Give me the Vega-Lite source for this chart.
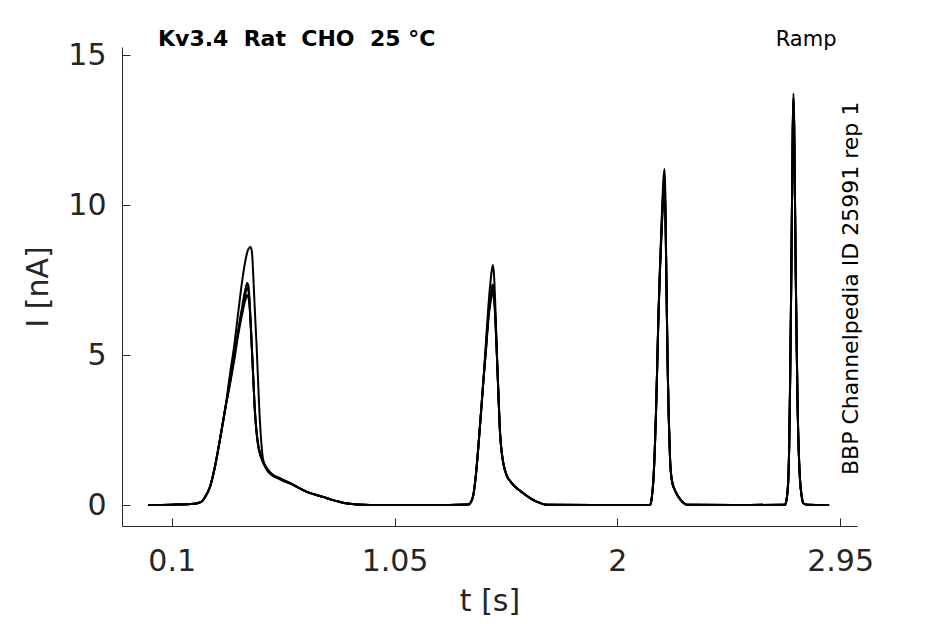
{
  "$schema": "https://vega.github.io/schema/vega-lite/v6.json",
  "width": 735,
  "height": 479,
  "autosize": {"type": "none"},
  "padding": {"left": 122, "top": 47, "right": 88, "bottom": 98},
  "background": "white",
  "title": {
    "text": "Kv3.4\u00a0 Rat\u00a0 CHO\u00a0 25 °C",
    "anchor": "start",
    "frame": "group",
    "dx": 36,
    "dy": 39,
    "offset": 0,
    "baseline": "alphabetic",
    "font": "DejaVu Sans",
    "fontSize": 22,
    "fontWeight": "bold",
    "color": "black"
  },
  "config": {
    "view": {"stroke": null},
    "axis": {
      "grid": false,
      "domainColor": "#262626",
      "tickColor": "#262626",
      "labelColor": "#262626",
      "titleColor": "#262626",
      "labelFont": "DejaVu Sans",
      "titleFont": "DejaVu Sans",
      "labelFontSize": 30,
      "titleFontSize": 30,
      "titleFontWeight": "normal",
      "tickSize": -8,
      "labelFlush": false,
      "labelOverlap": false
    }
  },
  "layer": [
    {
      "data": {
        "values": [
          {"r":"A","t":0,"i":0},{"r":"A","t":0.1,"i":0.01},{"r":"A","t":0.18,"i":0.03},{"r":"A","t":0.21,"i":0.06},{"r":"A","t":0.228,"i":0.12},{"r":"A","t":0.245,"i":0.3},{"r":"A","t":0.263,"i":0.6},{"r":"A","t":0.285,"i":1.3},{"r":"A","t":0.306,"i":2.2},{"r":"A","t":0.328,"i":3.2},
          {"r":"A","t":0.349,"i":4.4},{"r":"A","t":0.367,"i":5.35},{"r":"A","t":0.384,"i":6.45},{"r":"A","t":0.4,"i":7.45},{"r":"A","t":0.413,"i":8.1},{"r":"A","t":0.425,"i":8.5},{"r":"A","t":0.437,"i":8.6},{"r":"A","t":0.443,"i":8.35},{"r":"A","t":0.448,"i":7.6},{"r":"A","t":0.455,"i":6.4},{"r":"A","t":0.462,"i":5.3},{"r":"A","t":0.474,"i":3.1},{"r":"A","t":0.488,"i":1.6},{"r":"A","t":0.5,"i":1.25},{"r":"A","t":0.512,"i":1.1},{"r":"A","t":0.53,"i":0.98},{"r":"A","t":0.55,"i":0.9},{"r":"A","t":0.576,"i":0.8},{"r":"A","t":0.604,"i":0.72},
          {"r":"A","t":0.64,"i":0.58},{"r":"A","t":0.676,"i":0.44},{"r":"A","t":0.71,"i":0.35},{"r":"A","t":0.746,"i":0.27},{"r":"A","t":0.78,"i":0.18},{"r":"A","t":0.818,"i":0.1},{"r":"A","t":0.85,"i":0.05},{"r":"A","t":0.889,"i":0.02},{"r":"A","t":1.0,"i":0},{"r":"A","t":1.2,"i":0},{"r":"A","t":1.365,"i":0.02},{"r":"A","t":1.376,"i":0.1},{"r":"A","t":1.386,"i":0.33},{"r":"A","t":1.397,"i":1.0},{"r":"A","t":1.407,"i":1.9},{"r":"A","t":1.418,"i":3.0},{"r":"A","t":1.429,"i":4.15},
          {"r":"A","t":1.44,"i":5.45},{"r":"A","t":1.45,"i":6.6},{"r":"A","t":1.46,"i":7.5},{"r":"A","t":1.469,"i":8.0},{"r":"A","t":1.474,"i":7.7},{"r":"A","t":1.48,"i":6.6},{"r":"A","t":1.486,"i":5.2},
          {"r":"A","t":1.493,"i":3.7},{"r":"A","t":1.5,"i":2.4},{"r":"A","t":1.508,"i":1.7},{"r":"A","t":1.515,"i":1.35},{"r":"A","t":1.529,"i":0.97},{"r":"A","t":1.545,"i":0.78},{"r":"A","t":1.565,"i":0.6},{"r":"A","t":1.585,"i":0.48},{"r":"A","t":1.62,"i":0.27},{"r":"A","t":1.656,"i":0.11},{"r":"A","t":1.699,"i":0.01},{"r":"A","t":1.9,"i":0},{"r":"A","t":2.1,"i":0},{"r":"A","t":2.14,"i":0},{"r":"A","t":2.147,"i":0.25},{"r":"A","t":2.154,"i":0.85},{"r":"A","t":2.16,"i":1.9},{"r":"A","t":2.165,"i":3.1},{"r":"A","t":2.17,"i":4.6},{"r":"A","t":2.175,"i":6.2},
          {"r":"A","t":2.182,"i":8.0},{"r":"A","t":2.19,"i":9.7},{"r":"A","t":2.196,"i":10.8},{"r":"A","t":2.201,"i":11.2},{"r":"A","t":2.204,"i":10.6},{"r":"A","t":2.207,"i":9.0},
          {"r":"A","t":2.211,"i":6.5},{"r":"A","t":2.215,"i":4.5},{"r":"A","t":2.219,"i":3.0},{"r":"A","t":2.225,"i":1.5},{"r":"A","t":2.232,"i":0.85},{"r":"A","t":2.245,"i":0.5},{"r":"A","t":2.26,"i":0.28},{"r":"A","t":2.278,"i":0.1},{"r":"A","t":2.296,"i":0.01},{"r":"A","t":2.5,"i":0},{"r":"A","t":2.715,"i":0.01},{"r":"A","t":2.722,"i":0.2},{"r":"A","t":2.729,"i":0.84},{"r":"A","t":2.733,"i":2.0},{"r":"A","t":2.737,"i":4.2},{"r":"A","t":2.741,"i":7.0},{"r":"A","t":2.745,"i":10.2},
          {"r":"A","t":2.748,"i":12.6},{"r":"A","t":2.751,"i":13.72},{"r":"A","t":2.754,"i":12.8},
          {"r":"A","t":2.757,"i":10.6},{"r":"A","t":2.761,"i":7.6},{"r":"A","t":2.765,"i":5.2},{"r":"A","t":2.769,"i":3.2},{"r":"A","t":2.774,"i":1.7},{"r":"A","t":2.779,"i":0.84},{"r":"A","t":2.786,"i":0.3},{"r":"A","t":2.793,"i":0.06},{"r":"A","t":2.81,"i":0.01},{"r":"A","t":2.903,"i":0},

          {"r":"B","t":0,"i":0},{"r":"B","t":0.1,"i":0.01},{"r":"B","t":0.18,"i":0.03},{"r":"B","t":0.21,"i":0.06},{"r":"B","t":0.228,"i":0.12},{"r":"B","t":0.245,"i":0.3},{"r":"B","t":0.263,"i":0.6},{"r":"B","t":0.285,"i":1.3},{"r":"B","t":0.306,"i":2.2},{"r":"B","t":0.328,"i":3.2},
          {"r":"B","t":0.349,"i":4.15},{"r":"B","t":0.367,"i":5.0},{"r":"B","t":0.384,"i":5.85},{"r":"B","t":0.4,"i":6.6},{"r":"B","t":0.413,"i":7.15},{"r":"B","t":0.422,"i":7.4},{"r":"B","t":0.427,"i":7.3},{"r":"B","t":0.431,"i":6.95},{"r":"B","t":0.438,"i":5.9},{"r":"B","t":0.445,"i":4.72},{"r":"B","t":0.455,"i":3.06},{"r":"B","t":0.469,"i":1.94},{"r":"B","t":0.48,"i":1.6},{"r":"B","t":0.49,"i":1.4},{"r":"B","t":0.51,"i":1.14},{"r":"B","t":0.533,"i":0.97},{"r":"B","t":0.555,"i":0.9},{"r":"B","t":0.576,"i":0.82},{"r":"B","t":0.604,"i":0.73},
          {"r":"B","t":0.64,"i":0.58},{"r":"B","t":0.676,"i":0.44},{"r":"B","t":0.71,"i":0.35},{"r":"B","t":0.746,"i":0.27},{"r":"B","t":0.78,"i":0.18},{"r":"B","t":0.818,"i":0.1},{"r":"B","t":0.85,"i":0.05},{"r":"B","t":0.889,"i":0.02},{"r":"B","t":1.0,"i":0},{"r":"B","t":1.2,"i":0},{"r":"B","t":1.365,"i":0.02},{"r":"B","t":1.376,"i":0.1},{"r":"B","t":1.386,"i":0.33},{"r":"B","t":1.397,"i":1.0},{"r":"B","t":1.407,"i":1.9},{"r":"B","t":1.418,"i":3.0},{"r":"B","t":1.429,"i":4.15},
          {"r":"B","t":1.44,"i":5.25},{"r":"B","t":1.45,"i":6.3},{"r":"B","t":1.46,"i":6.98},{"r":"B","t":1.468,"i":7.35},{"r":"B","t":1.474,"i":7.1},{"r":"B","t":1.48,"i":6.3},{"r":"B","t":1.486,"i":5.15},
          {"r":"B","t":1.493,"i":3.7},{"r":"B","t":1.5,"i":2.4},{"r":"B","t":1.508,"i":1.7},{"r":"B","t":1.515,"i":1.35},{"r":"B","t":1.529,"i":0.97},{"r":"B","t":1.545,"i":0.78},{"r":"B","t":1.565,"i":0.6},{"r":"B","t":1.585,"i":0.48},{"r":"B","t":1.62,"i":0.27},{"r":"B","t":1.656,"i":0.11},{"r":"B","t":1.699,"i":0.01},{"r":"B","t":1.9,"i":0},{"r":"B","t":2.1,"i":0},{"r":"B","t":2.14,"i":0},{"r":"B","t":2.147,"i":0.25},{"r":"B","t":2.154,"i":0.85},{"r":"B","t":2.16,"i":1.9},{"r":"B","t":2.165,"i":3.1},{"r":"B","t":2.17,"i":4.6},{"r":"B","t":2.175,"i":6.2},
          {"r":"B","t":2.182,"i":7.8},{"r":"B","t":2.19,"i":9.3},{"r":"B","t":2.196,"i":10.2},{"r":"B","t":2.201,"i":10.5},{"r":"B","t":2.204,"i":10.0},{"r":"B","t":2.207,"i":8.7},
          {"r":"B","t":2.211,"i":6.5},{"r":"B","t":2.215,"i":4.5},{"r":"B","t":2.219,"i":3.0},{"r":"B","t":2.225,"i":1.5},{"r":"B","t":2.232,"i":0.85},{"r":"B","t":2.245,"i":0.5},{"r":"B","t":2.26,"i":0.28},{"r":"B","t":2.278,"i":0.1},{"r":"B","t":2.296,"i":0.01},{"r":"B","t":2.5,"i":0},{"r":"B","t":2.715,"i":0.01},{"r":"B","t":2.722,"i":0.2},{"r":"B","t":2.729,"i":0.84},{"r":"B","t":2.733,"i":2.0},{"r":"B","t":2.737,"i":4.2},{"r":"B","t":2.741,"i":7.0},{"r":"B","t":2.745,"i":10.2},
          {"r":"B","t":2.748,"i":12.4},{"r":"B","t":2.751,"i":13.5},{"r":"B","t":2.754,"i":12.6},
          {"r":"B","t":2.757,"i":10.6},{"r":"B","t":2.761,"i":7.6},{"r":"B","t":2.765,"i":5.2},{"r":"B","t":2.769,"i":3.2},{"r":"B","t":2.774,"i":1.7},{"r":"B","t":2.779,"i":0.84},{"r":"B","t":2.786,"i":0.3},{"r":"B","t":2.793,"i":0.06},{"r":"B","t":2.81,"i":0.01},{"r":"B","t":2.903,"i":0},

          {"r":"C","t":0,"i":0},{"r":"C","t":0.1,"i":0.01},{"r":"C","t":0.18,"i":0.03},{"r":"C","t":0.21,"i":0.06},{"r":"C","t":0.228,"i":0.12},{"r":"C","t":0.245,"i":0.3},{"r":"C","t":0.263,"i":0.6},{"r":"C","t":0.285,"i":1.3},{"r":"C","t":0.306,"i":2.2},{"r":"C","t":0.328,"i":3.2},
          {"r":"C","t":0.349,"i":4.1},{"r":"C","t":0.367,"i":4.95},{"r":"C","t":0.384,"i":5.8},{"r":"C","t":0.4,"i":6.5},{"r":"C","t":0.413,"i":7.0},{"r":"C","t":0.422,"i":7.25},{"r":"C","t":0.427,"i":7.15},{"r":"C","t":0.431,"i":6.85},{"r":"C","t":0.438,"i":5.85},{"r":"C","t":0.445,"i":4.7},{"r":"C","t":0.455,"i":3.1},{"r":"C","t":0.469,"i":2.0},{"r":"C","t":0.48,"i":1.66},{"r":"C","t":0.49,"i":1.45},{"r":"C","t":0.51,"i":1.18},{"r":"C","t":0.533,"i":1.0},{"r":"C","t":0.555,"i":0.92},{"r":"C","t":0.576,"i":0.84},{"r":"C","t":0.604,"i":0.74},
          {"r":"C","t":0.64,"i":0.58},{"r":"C","t":0.676,"i":0.44},{"r":"C","t":0.71,"i":0.35},{"r":"C","t":0.746,"i":0.27},{"r":"C","t":0.78,"i":0.18},{"r":"C","t":0.818,"i":0.1},{"r":"C","t":0.85,"i":0.05},{"r":"C","t":0.889,"i":0.02},{"r":"C","t":1.0,"i":0},{"r":"C","t":1.2,"i":0},{"r":"C","t":1.365,"i":0.02},{"r":"C","t":1.376,"i":0.1},{"r":"C","t":1.386,"i":0.33},{"r":"C","t":1.397,"i":1.0},{"r":"C","t":1.407,"i":1.9},{"r":"C","t":1.418,"i":3.0},{"r":"C","t":1.429,"i":4.15},
          {"r":"C","t":1.44,"i":5.2},{"r":"C","t":1.45,"i":6.25},{"r":"C","t":1.46,"i":6.92},{"r":"C","t":1.468,"i":7.25},{"r":"C","t":1.474,"i":7.02},{"r":"C","t":1.48,"i":6.25},{"r":"C","t":1.486,"i":5.12},
          {"r":"C","t":1.493,"i":3.7},{"r":"C","t":1.5,"i":2.4},{"r":"C","t":1.508,"i":1.7},{"r":"C","t":1.515,"i":1.35},{"r":"C","t":1.529,"i":0.97},{"r":"C","t":1.545,"i":0.78},{"r":"C","t":1.565,"i":0.6},{"r":"C","t":1.585,"i":0.48},{"r":"C","t":1.62,"i":0.27},{"r":"C","t":1.656,"i":0.11},{"r":"C","t":1.699,"i":0.01},{"r":"C","t":1.9,"i":0},{"r":"C","t":2.1,"i":0},{"r":"C","t":2.14,"i":0},{"r":"C","t":2.147,"i":0.25},{"r":"C","t":2.154,"i":0.85},{"r":"C","t":2.16,"i":1.9},{"r":"C","t":2.165,"i":3.1},{"r":"C","t":2.17,"i":4.6},{"r":"C","t":2.175,"i":6.2},
          {"r":"C","t":2.182,"i":7.9},{"r":"C","t":2.19,"i":9.5},{"r":"C","t":2.196,"i":10.5},{"r":"C","t":2.201,"i":10.9},{"r":"C","t":2.204,"i":10.35},{"r":"C","t":2.207,"i":8.85},
          {"r":"C","t":2.211,"i":6.5},{"r":"C","t":2.215,"i":4.5},{"r":"C","t":2.219,"i":3.0},{"r":"C","t":2.225,"i":1.5},{"r":"C","t":2.232,"i":0.85},{"r":"C","t":2.245,"i":0.5},{"r":"C","t":2.26,"i":0.28},{"r":"C","t":2.278,"i":0.1},{"r":"C","t":2.296,"i":0.01},{"r":"C","t":2.5,"i":0},{"r":"C","t":2.715,"i":0.01},{"r":"C","t":2.722,"i":0.2},{"r":"C","t":2.729,"i":0.84},{"r":"C","t":2.733,"i":2.0},{"r":"C","t":2.737,"i":4.2},{"r":"C","t":2.741,"i":7.0},{"r":"C","t":2.745,"i":10.2},
          {"r":"C","t":2.748,"i":12.5},{"r":"C","t":2.751,"i":13.6},{"r":"C","t":2.754,"i":12.7},
          {"r":"C","t":2.757,"i":10.6},{"r":"C","t":2.761,"i":7.6},{"r":"C","t":2.765,"i":5.2},{"r":"C","t":2.769,"i":3.2},{"r":"C","t":2.774,"i":1.7},{"r":"C","t":2.779,"i":0.84},{"r":"C","t":2.786,"i":0.3},{"r":"C","t":2.793,"i":0.06},{"r":"C","t":2.81,"i":0.01},{"r":"C","t":2.903,"i":0},

          {"r":"E","t":0,"i":0},{"r":"E","t":0.1,"i":0.01},{"r":"E","t":0.18,"i":0.03},{"r":"E","t":0.21,"i":0.06},{"r":"E","t":0.228,"i":0.12},{"r":"E","t":0.245,"i":0.3},{"r":"E","t":0.263,"i":0.6},{"r":"E","t":0.285,"i":1.3},{"r":"E","t":0.306,"i":2.2},{"r":"E","t":0.328,"i":3.2},
          {"r":"E","t":0.349,"i":4.05},{"r":"E","t":0.367,"i":4.85},{"r":"E","t":0.384,"i":5.7},{"r":"E","t":0.4,"i":6.35},{"r":"E","t":0.413,"i":6.8},{"r":"E","t":0.422,"i":7.0},{"r":"E","t":0.427,"i":6.92},{"r":"E","t":0.431,"i":6.7},{"r":"E","t":0.438,"i":5.75},{"r":"E","t":0.445,"i":4.65},{"r":"E","t":0.455,"i":3.1},{"r":"E","t":0.469,"i":1.98},{"r":"E","t":0.48,"i":1.64},{"r":"E","t":0.49,"i":1.43},{"r":"E","t":0.51,"i":1.16},{"r":"E","t":0.533,"i":0.99},{"r":"E","t":0.555,"i":0.9},{"r":"E","t":0.576,"i":0.83},{"r":"E","t":0.604,"i":0.72},
          {"r":"E","t":0.64,"i":0.58},{"r":"E","t":0.676,"i":0.44},{"r":"E","t":0.71,"i":0.35},{"r":"E","t":0.746,"i":0.27},{"r":"E","t":0.78,"i":0.18},{"r":"E","t":0.818,"i":0.1},{"r":"E","t":0.85,"i":0.05},{"r":"E","t":0.889,"i":0.02},{"r":"E","t":1.0,"i":0},{"r":"E","t":1.2,"i":0},{"r":"E","t":1.365,"i":0.02},{"r":"E","t":1.376,"i":0.1},{"r":"E","t":1.386,"i":0.33},{"r":"E","t":1.397,"i":1.0},{"r":"E","t":1.407,"i":1.9},{"r":"E","t":1.418,"i":3.0},{"r":"E","t":1.429,"i":4.15},
          {"r":"E","t":1.44,"i":5.15},{"r":"E","t":1.45,"i":6.15},{"r":"E","t":1.46,"i":6.78},{"r":"E","t":1.468,"i":7.05},{"r":"E","t":1.474,"i":6.88},{"r":"E","t":1.48,"i":6.15},{"r":"E","t":1.486,"i":5.05},
          {"r":"E","t":1.493,"i":3.7},{"r":"E","t":1.5,"i":2.4},{"r":"E","t":1.508,"i":1.7},{"r":"E","t":1.515,"i":1.35},{"r":"E","t":1.529,"i":0.97},{"r":"E","t":1.545,"i":0.78},{"r":"E","t":1.565,"i":0.6},{"r":"E","t":1.585,"i":0.48},{"r":"E","t":1.62,"i":0.27},{"r":"E","t":1.656,"i":0.11},{"r":"E","t":1.699,"i":0.01},{"r":"E","t":1.9,"i":0},{"r":"E","t":2.1,"i":0},{"r":"E","t":2.14,"i":0},{"r":"E","t":2.147,"i":0.25},{"r":"E","t":2.154,"i":0.85},{"r":"E","t":2.16,"i":1.9},{"r":"E","t":2.165,"i":3.1},{"r":"E","t":2.17,"i":4.6},{"r":"E","t":2.175,"i":6.2},
          {"r":"E","t":2.182,"i":7.85},{"r":"E","t":2.19,"i":9.4},{"r":"E","t":2.196,"i":10.3},{"r":"E","t":2.201,"i":10.65},{"r":"E","t":2.204,"i":10.15},{"r":"E","t":2.207,"i":8.75},
          {"r":"E","t":2.211,"i":6.5},{"r":"E","t":2.215,"i":4.5},{"r":"E","t":2.219,"i":3.0},{"r":"E","t":2.225,"i":1.5},{"r":"E","t":2.232,"i":0.85},{"r":"E","t":2.245,"i":0.5},{"r":"E","t":2.26,"i":0.28},{"r":"E","t":2.278,"i":0.1},{"r":"E","t":2.296,"i":0.01},{"r":"E","t":2.5,"i":0},{"r":"E","t":2.715,"i":0.01},{"r":"E","t":2.722,"i":0.2},{"r":"E","t":2.729,"i":0.84},{"r":"E","t":2.733,"i":2.0},{"r":"E","t":2.737,"i":4.2},{"r":"E","t":2.741,"i":7.0},{"r":"E","t":2.745,"i":10.2},
          {"r":"E","t":2.748,"i":12.45},{"r":"E","t":2.751,"i":13.55},{"r":"E","t":2.754,"i":12.65},
          {"r":"E","t":2.757,"i":10.6},{"r":"E","t":2.761,"i":7.6},{"r":"E","t":2.765,"i":5.2},{"r":"E","t":2.769,"i":3.2},{"r":"E","t":2.774,"i":1.7},{"r":"E","t":2.779,"i":0.84},{"r":"E","t":2.786,"i":0.3},{"r":"E","t":2.793,"i":0.06},{"r":"E","t":2.81,"i":0.01},{"r":"E","t":2.903,"i":0}
        ]
      },
      "mark": {"type": "line", "color": "black", "strokeWidth": 2, "interpolate": "monotone"},
      "encoding": {
        "x": {
          "field": "t",
          "type": "quantitative",
          "title": "t [s]",
          "scale": {"domain": [-0.112, 3.022], "nice": false, "zero": false},
          "axis": {
            "values": [0.1, 1.05, 2, 2.95],
            "labelExpr": "'' + datum.value",
            "labelPadding": 28,
            "titlePadding": 10
          }
        },
        "y": {
          "field": "i",
          "type": "quantitative",
          "title": "I [nA]",
          "scale": {"domain": [-0.7, 15.27], "nice": false, "zero": false},
          "axis": {
            "values": [0, 5, 10, 15],
            "format": "d",
            "labelPadding": 24,
            "titlePadding": 14
          }
        },
        "detail": {"field": "r"}
      }
    },
    {
      "data": {"values": [{"note": "Ramp"}]},
      "mark": {"type": "text", "font": "DejaVu Sans", "fontSize": 21, "align": "center", "baseline": "alphabetic", "color": "black"},
      "encoding": {
        "text": {"field": "note"},
        "x": {"datum": 2.805, "type": "quantitative"},
        "y": {"datum": 15.3, "type": "quantitative"}
      }
    },
    {
      "data": {"values": [{"note": "BBP Channelpedia ID 25991 rep 1"}]},
      "mark": {"type": "text", "font": "DejaVu Sans", "fontSize": 22, "angle": 270, "align": "left", "baseline": "alphabetic", "color": "black"},
      "encoding": {
        "text": {"field": "note"},
        "x": {"datum": 3.027, "type": "quantitative"},
        "y": {"datum": 1.0, "type": "quantitative"}
      }
    }
  ]
}
